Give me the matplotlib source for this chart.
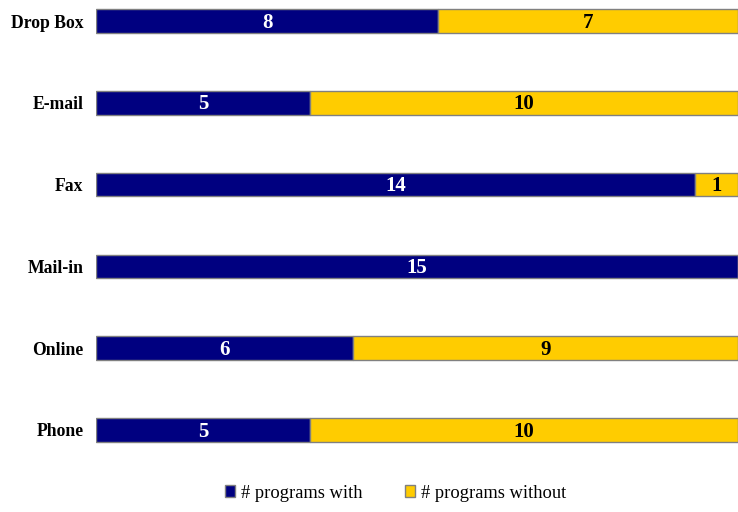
import matplotlib
matplotlib.use("Agg")
import matplotlib.pyplot as plt
import numpy as np

plt.rcParams['font.family'] = ['Liberation Serif', 'DejaVu Serif']

categories = ["Drop Box", "E-mail", "Fax", "Mail-in", "Online", "Phone"]
with_prog = [8, 5, 14, 15, 6, 5]
without_prog = [7, 10, 1, 0, 9, 10]

navy = "#000080"
gold = "#FFCC00"

fig = plt.figure(figsize=(7.38, 5.12), dpi=100)
ax = fig.add_axes([96/738, 1-460/512, 1-96/738, 460/512])

y = np.arange(len(categories))
h = 0.29
b1 = ax.barh(y, with_prog, height=h, color=navy, edgecolor="#808080", lw=1, label="# programs with")
b2 = ax.barh(y, without_prog, left=with_prog, height=h, color=gold, edgecolor="#808080", lw=1, label="# programs without")

# value labels, centred in each segment
for i in range(len(categories)):
    if with_prog[i] > 0:
        ax.text(with_prog[i]/2, y[i] + 0.02, str(with_prog[i]), color="white", fontweight="bold",
                ha="center", va="center", fontsize=15)
    if without_prog[i] > 0:
        ax.text(with_prog[i] + without_prog[i]/2, y[i] + 0.02, str(without_prog[i]), color="black",
                fontweight="bold", ha="center", va="center", fontsize=15)

ax.set_xlim(0, 15)
ax.set_ylim(5 + 30/81.8, -21/81.8)
ax.set_yticks(y)
ax.set_yticklabels(categories, fontweight="bold", fontsize=12.7)
ax.set_xticks([])
ax.tick_params(axis="y", length=0, pad=9)
for s in ax.spines.values():
    s.set_visible(False)

fig.legend(handles=[b1, b2], loc="center", bbox_to_anchor=(0.536, 1-493/512), ncol=2,
           frameon=False, fontsize=13.3, handlelength=0.55, handleheight=0.55,
           handletextpad=0.3, columnspacing=2.3)

fig.savefig("out.png", dpi=100)
